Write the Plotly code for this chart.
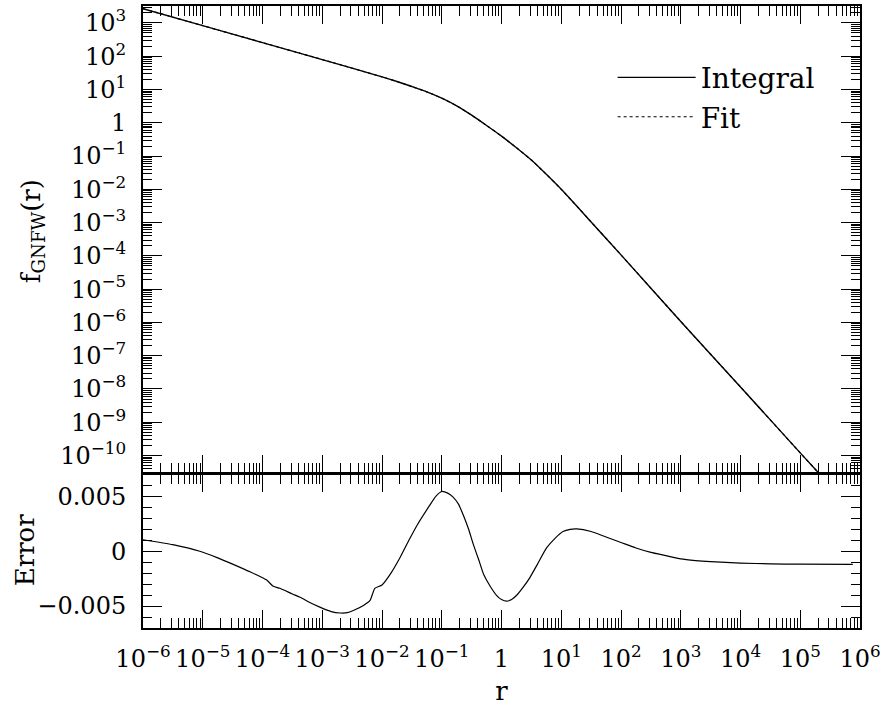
import plotly.graph_objects as go
from plotly.subplots import make_subplots

# ---------------- data ----------------
# top panel: log10(r) and log10(f_GNFW)
logr_integral = [-6.0, -5.0, -4.0, -3.0, -2.0, -1.75, -1.5, -1.25, -1.0, -0.75, -0.5, -0.25,
                 0.0, 0.25, 0.5, 0.75, 1.0, 1.5, 2.0, 3.0, 4.0, 5.0, 5.5]
logf_integral = [3.43, 2.92, 2.41, 1.90, 1.38, 1.24, 1.09, 0.93, 0.74, 0.51, 0.23, -0.08,
                 -0.40, -0.75, -1.12, -1.55, -2.0, -2.98, -3.97, -5.97, -7.94, -9.92, -10.9]
logr_fit = [-6.0, -5.0, -4.0, -3.0, -2.0, -1.75, -1.5, -1.25, -1.0, -0.75, -0.5, -0.25,
            0.0, 0.25, 0.5, 0.75, 1.0, 1.5, 2.0, 3.0, 4.0, 5.0, 5.5]
logf_fit = [3.43, 2.92, 2.41, 1.90, 1.38, 1.24, 1.09, 0.93, 0.74, 0.51, 0.23, -0.08,
            -0.40, -0.75, -1.12, -1.55, -2.0, -2.98, -3.97, -5.97, -7.94, -9.92, -10.9]

# bottom panel: log10(r) and relative error
logr_error = [-6.0, -5.5, -5.05, -4.75, -4.49, -4.2, -3.93, -3.82, -3.71, -3.5,
              -3.37, -3.2, -3.04, -2.85, -2.70, -2.58, -2.48, -2.31, -2.20, -2.12,
              -2.0, -1.85, -1.70, -1.55, -1.41, -1.2, -1.1, -1.0, -0.9, -0.81,
              -0.72, -0.64, -0.55, -0.47, -0.38, -0.30, -0.2, -0.08, 0.0, 0.085,
              0.17, 0.25, 0.36, 0.475, 0.6, 0.754, 0.9, 1.03, 1.15, 1.26,
              1.5, 1.75, 2.0, 2.25, 2.5, 2.75, 3.0, 3.25, 3.5, 4.0,
              4.5, 5.0, 5.88]
error = [0.00105, 0.0006, 0.0, -0.0006, -0.0012, -0.0019, -0.00263, -0.0032, -0.00338, -0.0039,
         -0.0042, -0.0047, -0.0051, -0.0055, -0.00563, -0.0056, -0.0054, -0.00494, -0.00449, -0.00338,
         -0.00308, -0.0020, -0.0006, 0.0010, 0.0024, 0.0042, 0.0050, 0.00545, 0.0053, 0.00494,
         0.0043, 0.0033, 0.0020, 0.0006, -0.0008, -0.0021, -0.0031, -0.00404, -0.0044, -0.00455,
         -0.0044, -0.00404, -0.0033, -0.0024, -0.0012, 0.0003, 0.0012, 0.0018, 0.0020, 0.00204,
         0.0018, 0.0013, 0.0008, 0.0003, -0.0001, -0.0004, -0.0007, -0.00085, -0.00095, -0.00108,
         -0.00115, -0.00118, -0.0012]

# tick labels
PAD = "\u2005\u2006"
x_tick_exp = list(range(-6, 7))
x_tick_text = ["1" if k == 0 else "10<sup>%s</sup>" % (str(k).replace("-", "\u2212")) for k in x_tick_exp]
y_tick_exp = list(range(-10, 4))
y_tick_text = [("1" if k == 0 else "10<sup>%s</sup>" % (str(k).replace("-", "\u2212"))) + PAD
               for k in y_tick_exp]
err_tick_vals = [-0.005, 0.0, 0.005]
err_tick_text = ["\u22120.005" + PAD, "0" + PAD, "0.005" + PAD]

# ---------------- figure ----------------
FONT = "DejaVu Serif"
fig = make_subplots(rows=2, cols=1, shared_xaxes=True, vertical_spacing=0,
                    row_heights=[0.75, 0.25])

fig.add_trace(go.Scatter(x=[10 ** v for v in logr_integral], y=[10 ** v for v in logf_integral],
                         mode="lines", name="Integral",
                         line=dict(color="black", width=1.4, shape="spline", smoothing=0.8)),
              row=1, col=1)
fig.add_trace(go.Scatter(x=[10 ** v for v in logr_fit], y=[10 ** v for v in logf_fit],
                         mode="lines", name="Fit",
                         line=dict(color="black", width=1.2, dash="dot", shape="spline", smoothing=0.8)),
              row=1, col=1)
fig.add_trace(go.Scatter(x=[10 ** v for v in logr_error], y=error,
                         mode="lines", showlegend=False,
                         line=dict(color="black", width=1.2, shape="spline", smoothing=0.5)),
              row=2, col=1)

x_minor = [m * 10 ** k for k in range(-7, 7) for m in range(2, 10)]
y_minor = [m * 10 ** k for k in range(-12, 4) for m in range(2, 10)]

common_axis = dict(showline=True, linecolor="black", linewidth=2, mirror="allticks",
                   ticks="inside", tickcolor="black", tickwidth=1.2, showgrid=False,
                   zeroline=False)

xcommon = dict(common_axis, type="log", range=[-6, 6], ticklen=18,
               tickmode="array", tickvals=[10 ** k for k in x_tick_exp], ticktext=x_tick_text,
               minor=dict(ticks="inside", ticklen=10, tickcolor="black", tickwidth=1.2,
                          tickmode="array", tickvals=x_minor, showgrid=False))
fig.update_xaxes(**xcommon)
fig.update_xaxes(showticklabels=False, row=1, col=1)
fig.update_xaxes(showticklabels=True, ticklabelstandoff=8,
                 tickfont=dict(family=FONT, size=24, color="black"),
                 title=dict(text="r", font=dict(family=FONT, size=26, color="black"), standoff=10),
                 row=2, col=1)

fig.update_yaxes(**common_axis, type="log", range=[-10.51, 3.51], ticklen=19,
                 domain=[0.25, 1.0],
                 tickmode="array", tickvals=[10 ** k for k in y_tick_exp], ticktext=y_tick_text,
                 tickfont=dict(family=FONT, size=24, color="black"),
                 minor=dict(ticks="inside", ticklen=9, tickcolor="black", tickwidth=1,
                            tickmode="array", tickvals=y_minor, showgrid=False),
                 row=1, col=1)
fig.update_yaxes(**common_axis, range=[-0.007, 0.007], ticklen=19,
                 domain=[0.0, 0.2468],
                 tickmode="array", tickvals=err_tick_vals, ticktext=err_tick_text,
                 tickfont=dict(family=FONT, size=24, color="black"),
                 minor=dict(ticks="inside", ticklen=9, tickcolor="black", tickwidth=1,
                            dtick=0.001, showgrid=False),
                 row=2, col=1)

# y-axis titles placed as rotated text
fig.add_annotation(text="f<sub>GNFW</sub>(r)", xref="paper", yref="paper",
                   x=-0.1548, y=0.638, xanchor="center", yanchor="middle",
                   textangle=-90, showarrow=False,
                   font=dict(family=FONT, size=26, color="black"))
fig.add_annotation(text="Error", xref="paper", yref="paper",
                   x=-0.1646, y=0.125, xanchor="center", yanchor="middle",
                   textangle=-90, showarrow=False,
                   font=dict(family=FONT, size=26, color="black"))

fig.update_layout(
    width=886, height=706,
    margin=dict(l=143, r=26, t=4, b=78),
    paper_bgcolor="white", plot_bgcolor="white",
    font=dict(family=FONT, color="black"),
    showlegend=True,
    legend=dict(x=0.655, y=0.925, xanchor="left", yanchor="top",
                bgcolor="rgba(0,0,0,0)", borderwidth=0,
                font=dict(family=FONT, size=28, color="black"),
                itemwidth=78, tracegroupgap=0),
)

fig.write_html("out.html")
